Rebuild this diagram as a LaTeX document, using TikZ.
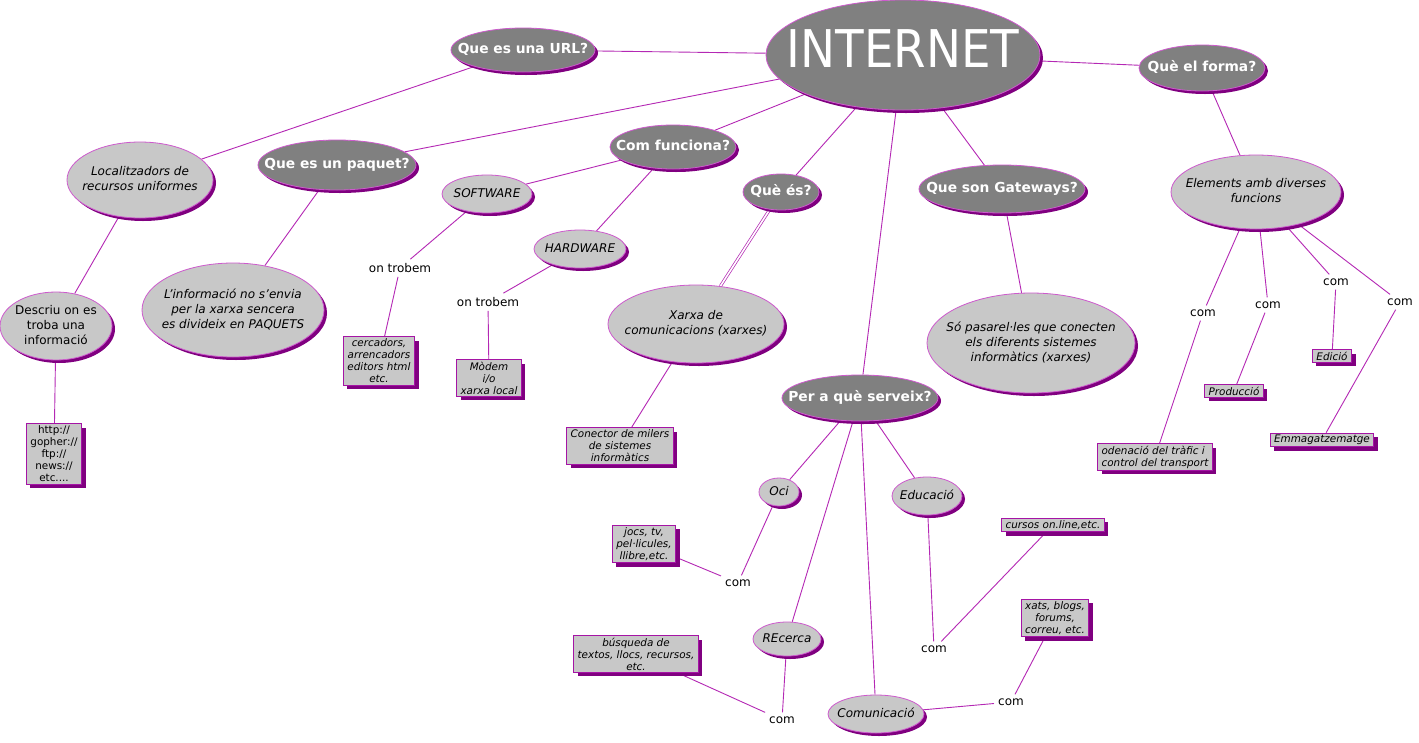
\documentclass[tikz,border=0pt]{standalone}
\usepackage{fontspec}
\setmainfont{DejaVu Sans}
\newfontfamily\titlefont{DejaVu Sans Condensed}
\usetikzlibrary{shapes.geometric,shadows}
\pgfdeclarelayer{background}
\pgfsetlayers{background,main}
\definecolor{lnk}{RGB}{180,40,180}
\definecolor{rim}{RGB}{205,90,205}
\definecolor{frame}{RGB}{165,20,165}
\definecolor{shade}{RGB}{128,0,128}
\definecolor{lite}{RGB}{200,200,200}
\definecolor{dark}{RGB}{128,128,128}
\newcommand{\inbox}[1]{\makebox[0pt]{\begin{tabular}{@{}c@{}}#1\end{tabular}}}
\tikzset{
  link/.style={draw=lnk, line width=0.9pt},
  bubble/.style={ellipse, draw=rim, line width=0.8pt, inner sep=0pt,
    drop shadow={shadow xshift=3pt, shadow yshift=-3pt, fill=shade, opacity=1}},
  topic/.style={bubble, fill=dark, text=white, font=\fontsize{13.8}{16}\selectfont\bfseries},
  idea/.style={bubble, fill=lite, font=\fontsize{12}{15}\selectfont\itshape},
  note/.style={rectangle, draw=frame, fill=lite, line width=1pt, inner xsep=4pt, inner ysep=2pt,
    align=center, font=\fontsize{10.4}{12}\selectfont\itshape,
    drop shadow={shadow xshift=4pt, shadow yshift=-4pt, fill=shade, opacity=1}},
  word/.style={font=\fontsize{12}{14}\selectfont, inner sep=4pt},
  sz/.style 2 args={minimum width=#1, minimum height=#2}
}
\begin{document}
\begin{tikzpicture}[x=1pt,y=-1pt]
\begin{pgfonlayer}{background}
\fill[white] (0,0) rectangle (1419,742);
\end{pgfonlayer}
\useasboundingbox (0,0) rectangle (1419,742);

\node[topic, sz={274}{110}, font=\titlefont\fontsize{52}{60}\selectfont] (net) at (903,55) {\inbox{INTERNET}};
\node[topic, sz={144}{44}] (url) at (523,50) {\inbox{Que es una URL?}};
\node[topic, sz={126}{46}] (forma) at (1202,68) {\inbox{Què el forma?}};
\node[topic, sz={158}{50}] (paquet) at (337,165) {\inbox{Que es un paquet?}};
\node[topic, sz={126}{44}] (funciona) at (673,147) {\inbox{Com funciona?}};
\node[topic, sz={76}{36}] (quees) at (781,192) {\inbox{Què és?}};
\node[topic, sz={166}{48}] (gate) at (1002,189) {\inbox{Que son Gateways?}};
\node[topic, sz={156}{46}] (serveix) at (860,398) {\inbox{Per a què serveix?}};

\node[idea, sz={146}{76}] (loc) at (140,180) {\inbox{Localitzadors de\\recursos uniformes}};
\node[idea, sz={112}{68}, font=\fontsize{12}{15}\selectfont] (descriu) at (56,326) {\inbox{Descriu on es\\troba una\\informació}};
\node[idea, sz={182}{94}] (linfo) at (233,310) {\inbox{L'informació no s'envia\\per la xarxa sencera\\es divideix en PAQUETS}};
\node[idea, sz={90}{38}] (soft) at (487,194) {\inbox{SOFTWARE}};
\node[idea, sz={92}{38}] (hard) at (580,249) {\inbox{HARDWARE}};
\node[idea, sz={176}{78}] (xarxa) at (696,324) {\inbox{Xarxa de\\comunicacions (xarxes)}};
\node[idea, sz={208}{100}] (pasarel) at (1031,343) {\inbox{Só pasarel·les que conecten\\els diferents sistemes\\informàtics (xarxes)}};
\node[idea, sz={170}{74}] (elem) at (1256,192) {\inbox{Elements amb diverses\\funcions}};
\node[idea, sz={40}{28}] (oci) at (779,492) {\inbox{Oci}};
\node[idea, sz={70}{38}] (educ) at (927,496) {\inbox{Educació}};
\node[idea, sz={68}{34}] (recerca) at (787,639) {\inbox{REcerca}};
\node[idea, sz={96}{38}] (comun) at (876,714) {\inbox{Comunicació}};

\node[note, font=\fontsize{10.4}{12}\selectfont] (http) at (54,454) {http://\\gopher://\\ftp://\\news://\\etc....};
\node[note] (cerc) at (379,361) {cercadors,\\arrencadors\\editors html\\etc.};
\node[note] (modem) at (489,378) {Mòdem\\i/o\\xarxa local};
\node[note] (conector) at (620,446) {Conector de milers\\de sistemes\\informàtics};
\node[note] (jocs) at (644,544) {jocs, tv,\\pel·licules,\\llibre,etc.};
\node[note] (busq) at (636,654) {búsqueda de\\textos, llocs, recursos,\\etc.};
\node[note] (cursos) at (1053,525) {cursos on.line,etc.};
\node[note] (xats) at (1055,618) {xats, blogs,\\forums,\\correu, etc.};
\node[note, align=left] (trafic) at (1155,457) {odenació del tràfic i\\control del transport};
\node[note] (prod) at (1234,391) {Producció};
\node[note] (edicio) at (1332,356) {Edició};
\node[note] (emmag) at (1322,440) {Emmagatzematge};

\node[word] (trob1) at (400,268) {on trobem};
\node[word] (trob2) at (488,302) {on trobem};
\node[word] (com1) at (1203,313) {com};
\node[word] (com2) at (1268,305) {com};
\node[word] (com3) at (1336,282) {com};
\node[word] (com4) at (1400,302) {com};
\node[word] (comoci) at (738,583) {com};
\node[word] (comedu) at (934,649) {com};
\node[word] (comrec) at (782,720) {com};
\node[word] (comcom) at (1011,702) {com};

\begin{pgfonlayer}{background}
\foreach \n in {url,paquet,funciona,quees,serveix,gate,forma}
  \draw[link] (net) -- (\n);
\draw[link] (url) -- (loc) -- (descriu) -- (http);
\draw[link] (paquet) -- (linfo);
\draw[link] (funciona) -- (soft) -- (trob1) -- (cerc);
\draw[link] (funciona) -- (hard) -- (trob2) -- (modem);
\draw[link, double=white, double distance=1.6pt, line width=0.7pt] (quees) -- (xarxa);
\draw[link] (xarxa) -- (conector);
\draw[link] (gate) -- (pasarel);
\draw[link] (forma) -- (elem);
\draw[link] (elem) -- (com1) -- (trafic);
\draw[link] (elem) -- (com2) -- (prod);
\draw[link] (elem) -- (com3) -- (edicio);
\draw[link] (elem) -- (com4) -- (emmag);
\foreach \n in {oci,educ,recerca,comun}
  \draw[link] (serveix) -- (\n);
\draw[link] (oci) -- (comoci) -- (jocs);
\draw[link] (educ) -- (comedu) -- (cursos);
\draw[link] (recerca) -- (comrec) -- (busq);
\draw[link] (comun) -- (comcom) -- (xats);
\end{pgfonlayer}
\end{tikzpicture}
\end{document}
